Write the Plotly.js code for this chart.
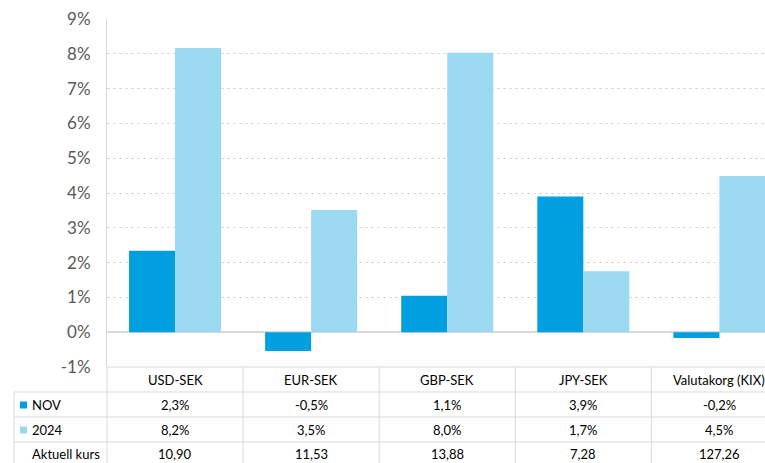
<!DOCTYPE html>
<html>
<head>
<meta charset="utf-8">
<script src="https://cdn.plot.ly/plotly-3.0.1.min.js"></script>
<style>html,body{margin:0;padding:0;background:#fff;}#chart{width:765px;height:463px;}</style>
</head>
<body>
<div id="chart"></div>
<script>
const categories = ["USD-SEK", "EUR-SEK", "GBP-SEK", "JPY-SEK", "Valutakorg (KIX)"];
const seriesNames = ["NOV", "2024"];
const novValues = [2.34, -0.54, 1.05, 3.9, -0.17];
const y2024Values = [8.17, 3.51, 8.03, 1.75, 4.49];
const novLabels = ["2,3%", "-0,5%", "1,1%", "3,9%", "-0,2%"];
const y2024Labels = ["8,2%", "3,5%", "8,0%", "1,7%", "4,5%"];
const kursLabel = "Aktuell kurs";
const kursValues = ["10,90", "11,53", "13,88", "7,28", "127,26"];
const yTickVals = [-1, 0, 1, 2, 3, 4, 5, 6, 7, 8, 9];
const yTickText = ["-1%", "0%", "1%", "2%", "3%", "4%", "5%", "6%", "7%", "8%", "9%"];
const colors = ["#009FE0", "#9BD9F1"];

const FONT = "Lato, 'Liberation Sans', sans-serif";
const gridCol = "#d9d9d9";

const traces = [
  {type: "bar", name: seriesNames[0], x: categories, y: novValues, marker: {color: colors[0]}, hoverinfo: "none"},
  {type: "bar", name: seriesNames[1], x: categories, y: y2024Values, marker: {color: colors[1]}, hoverinfo: "none"}
];

// table geometry in paper coords (plot spans y 19..367 px, height 348)
const H = 348, W = 658;
const py = px => (367 - px) / H;
const pxX = px => (px - 107) / W;
const rowCenters = [py(380), py(405), py(430), py(454)];
const rowLines = [py(392), py(417), py(442)];

const shapes = [];
const annotations = [];
shapes.push({type: "line", xref: "paper", yref: "paper", x0: 0, x1: 1, y0: 0, y1: 0, line: {color: gridCol, width: 1}});
rowLines.forEach(y => shapes.push({type: "line", xref: "paper", yref: "paper", x0: pxX(14), x1: 1, y0: y, y1: y, line: {color: gridCol, width: 1}}));
shapes.push({type: "line", xref: "paper", yref: "paper", x0: 0, x1: 0, y0: py(463), y1: 0, line: {color: gridCol, width: 1}});
shapes.push({type: "line", xref: "paper", yref: "paper", x0: pxX(14), x1: pxX(14), y0: py(463), y1: rowLines[0], line: {color: gridCol, width: 1}});
for (let i = 1; i < categories.length; i++) {
  shapes.push({type: "line", xref: "x", yref: "paper", x0: i - 0.5, x1: i - 0.5, y0: py(463), y1: 0, line: {color: gridCol, width: 1}});
}
[1, 2].forEach((r, k) => {
  shapes.push({type: "rect", xref: "paper", yref: "paper", x0: pxX(20), x1: pxX(27), y0: rowCenters[r] - 3.5/H, y1: rowCenters[r] + 3.5/H, fillcolor: colors[k], line: {width: 0}});
});

const tfont = {family: FONT, size: 13, color: "#000"};
function cell(xref, x, y, text, xanchor) {
  annotations.push({xref: xref, yref: "paper", x: x, y: y, xanchor: xanchor || "center", yanchor: "middle", text: text, showarrow: false, font: tfont});
}
categories.forEach((c, i) => {
  cell("x", i, rowCenters[0], c);
  cell("x", i, rowCenters[1], novLabels[i]);
  cell("x", i, rowCenters[2], y2024Labels[i]);
  cell("x", i, rowCenters[3], kursValues[i]);
});
cell("paper", pxX(30), rowCenters[1], seriesNames[0], "left");
cell("paper", pxX(30), rowCenters[2], seriesNames[1], "left");
cell("paper", pxX(30), rowCenters[3], kursLabel, "left");

const layout = {
  width: 765, height: 463,
  margin: {l: 107, r: 0, t: 19, b: 96},
  paper_bgcolor: "#fff", plot_bgcolor: "#fff",
  barmode: "group", bargap: 0.324, bargroupgap: 0,
  showlegend: false,
  xaxis: {type: "category", range: [-0.5, 4.335], showticklabels: false, showgrid: false, zeroline: false, showline: false, fixedrange: true},
  yaxis: {range: [-1, 9], tickmode: "array", tickvals: yTickVals, ticktext: yTickText,
          tickfont: {family: FONT, size: 17, color: "#595959"}, ticks: "", ticklabelstandoff: 12,
          showgrid: true, gridcolor: gridCol, griddash: "dot", gridwidth: 1,
          zeroline: true, zerolinecolor: gridCol, zerolinewidth: 1.5,
          showline: true, linecolor: gridCol, linewidth: 1, fixedrange: true},
  shapes: shapes,
  annotations: annotations
};

Plotly.newPlot("chart", traces, layout, {displayModeBar: false, staticPlot: true});
</script>
</body>
</html>
